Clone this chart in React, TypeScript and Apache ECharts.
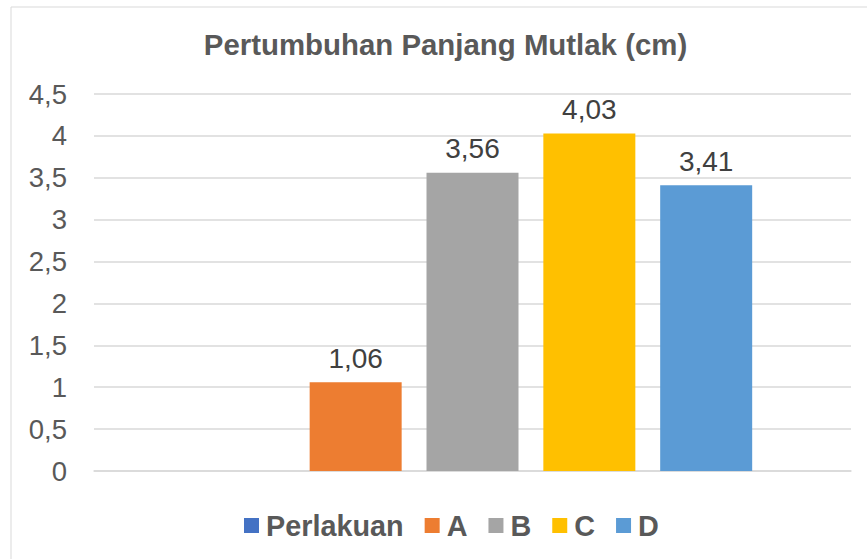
import React, { useEffect, useRef } from "react";
import * as echarts from "echarts";

const categories = [""];
const seriesNames = ["Perlakuan", "A", "B", "C", "D"];
const perlakuanValues: (number | null)[] = [null];
const aValues = [1.06];
const bValues = [3.56];
const cValues = [4.03];
const dValues = [3.41];
const seriesColors = ["#4472C4", "#ED7D31", "#A5A5A5", "#FFC000", "#5B9BD5"];
const titleText = "Pertumbuhan Panjang Mutlak (cm)";

const FONT = "'Liberation Sans', Arial, sans-serif";

export default function App() {
  const ref = useRef<HTMLDivElement>(null);
  useEffect(() => {
    if (!ref.current) return;
    const chart = echarts.init(ref.current, undefined, { renderer: "svg" });
    const allValues = [perlakuanValues, aValues, bValues, cValues, dValues];
    const fmt = (v: number) => String(v).replace(".", ",");
    chart.setOption({
      animation: false,
      backgroundColor: "#ffffff",
      textStyle: { fontFamily: FONT },
      title: {
        text: titleText,
        left: 445.5,
        top: 30,
        padding: 0,
        textAlign: "center",
        textStyle: { fontFamily: FONT, fontSize: 29.4, fontWeight: "bold", color: "#595959" },
      },
      legend: {
        left: 244,
        top: 511,
        padding: 0,
        itemWidth: 15,
        itemHeight: 15,
        itemGap: 21,
        icon: "rect",
        data: seriesNames,
        textStyle: { fontFamily: FONT, fontSize: 28.8, fontWeight: "bold", color: "#595959", padding: [0, 0, 0, 2] },
      },
      grid: { left: 94, right: 16, top: 94, bottom: 88, containLabel: false },
      xAxis: {
        type: "category",
        data: categories,
        axisTick: { show: false },
        axisLabel: { show: false },
        axisLine: { show: true, lineStyle: { color: "#d9d9d9", width: 1.5 } },
      },
      yAxis: {
        type: "value",
        min: 0,
        max: 4.5,
        interval: 0.5,
        axisLine: { show: false },
        axisTick: { show: false },
        splitLine: { lineStyle: { color: "#d9d9d9", width: 1.5 } },
        axisLabel: {
          margin: 27,
          fontFamily: FONT,
          fontSize: 27.5,
          color: "#595959",
          formatter: (v: number) => fmt(v),
        },
      },
      graphic: [
        {
          type: "rect",
          shape: { x: 11, y: 7, width: 900, height: 600 },
          style: { fill: "none", stroke: "#d9d9d9", lineWidth: 1 },
          silent: true,
        },
      ],
      series: seriesNames.map((name, i) => ({
        name,
        type: "bar",
        data: allValues[i],
        barWidth: 92,
        barGap: "27%",
        itemStyle: { color: seriesColors[i] },
        label: {
          show: true,
          position: "top",
          distance: 10,
          fontFamily: FONT,
          fontSize: 28,
          color: "#404040",
          formatter: (p: any) => (p.value == null ? "" : fmt(p.value)),
        },
      })),
    });
    return () => chart.dispose();
  }, []);
  return (
    <div
      ref={ref}
      style={{ position: "fixed", left: 0, top: 0, width: 867, height: 559, background: "#fff" }}
    />
  );
}
